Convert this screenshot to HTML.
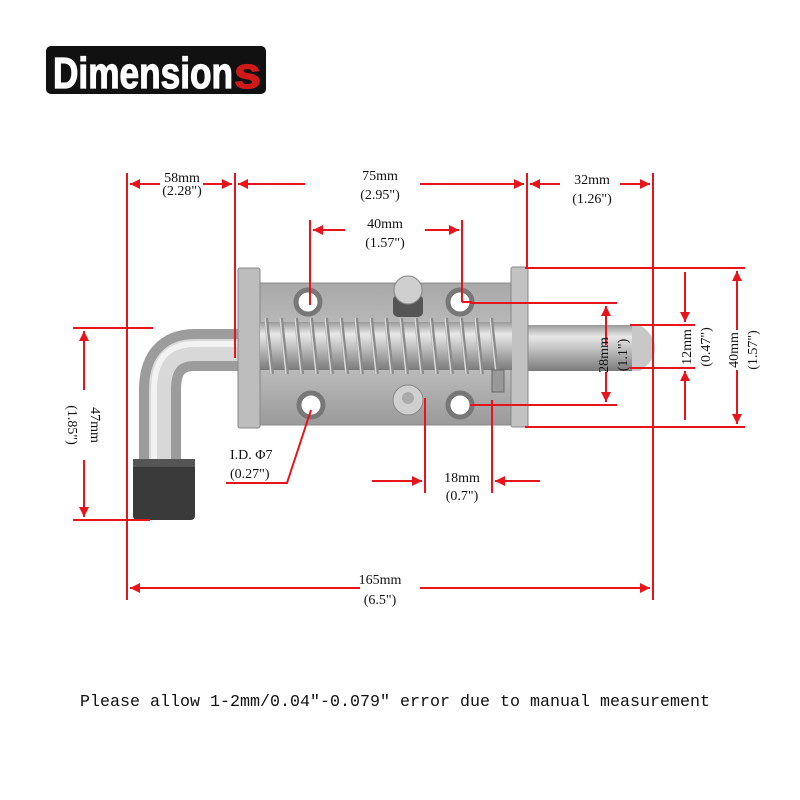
<!DOCTYPE html>
<html><head><meta charset="utf-8"><style>
html,body{margin:0;padding:0;background:#fff;width:800px;height:800px;overflow:hidden}
svg{display:block}
text{font-family:"Liberation Serif","Liberation Mono",serif;fill:#111}
</style></head><body>
<svg width="800" height="800" viewBox="0 0 800 800" xmlns="http://www.w3.org/2000/svg">
<defs>
<linearGradient id="rod" x1="0" y1="0" x2="0" y2="1">
<stop offset="0" stop-color="#9a9a9a"/><stop offset="0.25" stop-color="#e8e8e8"/><stop offset="0.55" stop-color="#bdbdbd"/><stop offset="1" stop-color="#7a7a7a"/></linearGradient>
<linearGradient id="body" x1="0" y1="0" x2="0" y2="1">
<stop offset="0" stop-color="#a8a8a8"/><stop offset="0.5" stop-color="#c4c4c4"/><stop offset="1" stop-color="#9a9a9a"/></linearGradient>
<marker id="ah" viewBox="0 0 10 10" refX="10" refY="5" markerWidth="6" markerHeight="5" orient="auto" markerUnits="strokeWidth">
<path d="M0,0 L10,5 L0,10 z" fill="#e8141b"/></marker>
</defs>

<!-- Title badge -->
<rect x="46" y="46" width="220" height="48" rx="5" fill="#111"/>
<text x="53" y="88" style="font-family:'Liberation Sans Narrow','Liberation Sans',sans-serif;font-weight:bold;font-size:44px;fill:#fff;stroke:#fff;stroke-width:1.2" textLength="180" lengthAdjust="spacingAndGlyphs">Dimension</text>
<text x="234" y="88" style="font-family:'Liberation Sans Narrow','Liberation Sans',sans-serif;font-weight:bold;font-size:44px;fill:#d01a1a;stroke:#d01a1a;stroke-width:1.2" textLength="27" lengthAdjust="spacingAndGlyphs">s</text>

<!-- Handle -->
<path d="M240,350 L195,350 Q160,350 160,390 L160,465" fill="none" stroke="#9c9c9c" stroke-width="42"/>
<path d="M240,350 L195,350 Q160,350 160,390 L160,465" fill="none" stroke="#d8d8d8" stroke-width="22"/>
<path d="M240,344 L195,344 Q154,344 154,390 L154,465" fill="none" stroke="#f2f2f2" stroke-width="6"/>
<rect x="133" y="459" width="62" height="61" rx="4" fill="#3a3a3a"/>
<rect x="133" y="459" width="62" height="8" fill="#555"/>

<!-- Plunger -->
<rect x="515" y="325" width="120" height="46" fill="url(#rod)"/>
<path d="M632,325 L640,325 Q655,335 655,348 Q655,361 640,371 L632,371 z" fill="#c8c8c8"/>

<!-- Housing -->
<rect x="258" y="283" width="262" height="142" fill="url(#body)" stroke="#888"/>
<rect x="238" y="268" width="22" height="160" rx="2" fill="#bdbdbd" stroke="#888"/>
<rect x="511" y="267" width="17" height="160" rx="2" fill="#c2c2c2" stroke="#888"/>
<rect x="260" y="322" width="252" height="48" fill="url(#rod)"/>
<g stroke="#8a8a8a" stroke-width="4" fill="none">
<path d="M266,318 l6,56 M281,318 l6,56 M296,318 l6,56 M311,318 l6,56 M326,318 l6,56 M341,318 l6,56 M356,318 l6,56 M371,318 l6,56 M386,318 l6,56 M401,318 l6,56 M416,318 l6,56 M431,318 l6,56 M446,318 l6,56 M461,318 l6,56 M476,318 l6,56 M491,318 l6,56"/>
</g>
<g stroke="#d8d8d8" stroke-width="1.5" fill="none">
<path d="M265,318 l6,56 M280,318 l6,56 M295,318 l6,56 M310,318 l6,56 M325,318 l6,56 M340,318 l6,56 M355,318 l6,56 M370,318 l6,56 M385,318 l6,56 M400,318 l6,56 M415,318 l6,56 M430,318 l6,56 M445,318 l6,56 M460,318 l6,56 M475,318 l6,56 M490,318 l6,56"/>
</g>
<g fill="#fff" stroke="#777" stroke-width="5">
<circle cx="308" cy="302" r="12"/><circle cx="460" cy="302" r="12"/>
<circle cx="311" cy="405" r="12"/><circle cx="460" cy="405" r="12"/>
</g>
<rect x="393" y="295" width="30" height="22" rx="5" fill="#555"/>
<circle cx="408" cy="290" r="14" fill="#cfcfcf" stroke="#888"/>
<circle cx="408" cy="400" r="15" fill="#cfcfcf" stroke="#888"/>
<circle cx="408" cy="398" r="6" fill="#aaa"/>
<rect x="492" y="370" width="12" height="22" fill="#999" stroke="#666"/>

<!-- Dimension lines -->
<g stroke="#e8141b" stroke-width="2" fill="none">
<path d="M127,173 V600 M235,173 V358 M527,173 V267 M653,173 V600"/>
<path d="M310,220 V305 M462,220 V302 M462,302 H472"/>
<path d="M73,328 H153 M73,520 H150"/>
<path d="M525,268 H745 M525,427 H745"/>
<path d="M470,303 H617 M470,405 H617"/>
<path d="M630,325 H695 M630,368 H695"/>
<path d="M425,398 V493 M492,400 V493"/>
<path d="M311,410 L287,483 H226"/>
</g>
<g stroke="#e8141b" stroke-width="2" fill="none" marker-end="url(#ah)">
<path d="M160,184 H130"/><path d="M203,184 H232"/>
<path d="M305,184 H238"/><path d="M420,184 H524"/>
<path d="M560,184 H530"/><path d="M620,184 H650"/>
<path d="M345,230 H313"/><path d="M425,230 H459"/>
<path d="M84,390 V331"/><path d="M84,460 V517"/>
<path d="M360,588 H130"/><path d="M420,588 H650"/>
<path d="M606,345 V306"/><path d="M606,372 V402"/>
<path d="M685,272 V322"/><path d="M685,420 V371"/>
<path d="M737,330 V271"/><path d="M737,370 V424"/>
<path d="M372,481 H422"/><path d="M540,481 H495"/>
</g>

<!-- Labels -->
<g font-size="14">
<text x="182" y="182" text-anchor="middle">58mm</text>
<text x="182" y="195" text-anchor="middle">(2.28")</text>
<text x="380" y="180" text-anchor="middle">75mm</text>
<text x="380" y="199" text-anchor="middle">(2.95")</text>
<text x="592" y="184" text-anchor="middle">32mm</text>
<text x="592" y="203" text-anchor="middle">(1.26")</text>
<text x="385" y="228" text-anchor="middle">40mm</text>
<text x="385" y="247" text-anchor="middle">(1.57")</text>
<text x="380" y="584" text-anchor="middle">165mm</text>
<text x="380" y="604" text-anchor="middle">(6.5")</text>
<text x="462" y="482" text-anchor="middle">18mm</text>
<text x="462" y="500" text-anchor="middle">(0.7")</text>
<text x="230" y="459">I.D. Φ7</text>
<text x="230" y="478">(0.27")</text>
<text transform="translate(91,425) rotate(90)" text-anchor="middle">47mm</text>
<text transform="translate(68,425) rotate(90)" text-anchor="middle">(1.85")</text>
<text transform="translate(608,355) rotate(-90)" text-anchor="middle">28mm</text>
<text transform="translate(627,355) rotate(-90)" text-anchor="middle">(1.1")</text>
<text transform="translate(691,347) rotate(-90)" text-anchor="middle">12mm</text>
<text transform="translate(710,347) rotate(-90)" text-anchor="middle">(0.47")</text>
<text transform="translate(738,350) rotate(-90)" text-anchor="middle">40mm</text>
<text transform="translate(757,350) rotate(-90)" text-anchor="middle">(1.57")</text>
</g>
<text x="80" y="706" font-size="17" textLength="630" lengthAdjust="spacingAndGlyphs" style="font-family:'Liberation Mono',monospace">Please allow 1-2mm/0.04"-0.079" error due to manual measurement</text>
</svg>
</body></html>
